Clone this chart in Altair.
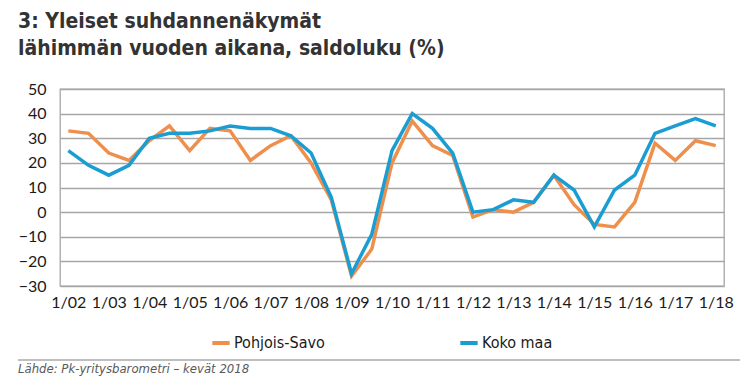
import altair as alt
import pandas as pd

years = [f"{y:02d}" for y in range(2, 18)]
periods = []
for y in years:
    periods += [f"1/{y}", f"7/{y}"]
periods.append("1/18")

tick_labels = ["1/02", "1/03", "1/04", "1/05", "1/06", "1/07", "1/08", "1/09", "1/10",
               "1/11", "1/12", "1/13", "1/14", "1/15", "1/16", "1/17", "1/18"]

pohjois_savo = [33, 32, 24, 21, 29, 35, 25, 34, 33, 21, 27, 31, 20, 5, -26, -15, 20,
                37, 27, 23, -2, 1, 0, 4, 15, 3, -5, -6, 4, 28, 21, 29, 27]
koko_maa = [25, 19, 15, 19, 30, 32, 32, 33, 35, 34, 34, 31, 24, 6, -25, -9, 25,
            40, 34, 24, 0, 1, 5, 4, 15, 9, -6, 9, 15, 32, 35, 38, 35]

series_names = ["Pohjois-Savo", "Koko maa"]
series_colors = ["#EF8F4C", "#1A9DD2"]

rows = []
for name, vals in zip(series_names, [pohjois_savo, koko_maa]):
    for p, v in zip(periods, vals):
        rows.append({"period": p, "value": v, "series": name})
df = pd.DataFrame(rows)

lines = alt.Chart(df).mark_line(strokeWidth=3.5, strokeJoin="miter").encode(
    x=alt.X("period:O", sort=periods,
            scale=alt.Scale(domain=periods, padding=0.41),
            axis=alt.Axis(title=None, values=tick_labels, labelAngle=0, ticks=False,
                          domain=False, labelFont="Lato", labelFontSize=16,
                          labelColor="#1a1a1a", labelPadding=8)),
    y=alt.Y("value:Q",
            scale=alt.Scale(domain=[-30, 50], nice=False),
            axis=alt.Axis(title=None, values=list(range(-30, 51, 10)), ticks=False,
                          domain=False, grid=True, gridColor="#A6A6A6", gridWidth=1.3,
                          labelFont="Lato", labelFontSize=16, labelColor="#1a1a1a",
                          labelPadding=14)),
    color=alt.Color("series:N", sort=series_names,
                    scale=alt.Scale(domain=series_names, range=series_colors),
                    legend=alt.Legend(title=None, orient="none", legendX=150, legendY=243,
                                      direction="horizontal", columns=2, columnPadding=127,
                                      symbolType="stroke", symbolStrokeWidth=4,
                                      symbolSize=300, labelFont="DejaVu Sans Condensed",
                                      labelFontSize=16, labelColor="#1a1a1a",
                                      labelOffset=2)),
)

source_rule = alt.Chart(pd.DataFrame({"a": [0]})).mark_rule(
    color="#808080", strokeWidth=1.2
).encode(x=alt.value(-42), x2=alt.value(680), y=alt.value(271))

source_text = alt.Chart(pd.DataFrame({"t": ["Lähde: Pk-yritysbarometri – kevät 2018"]})).mark_text(
    align="left", baseline="middle", font="DejaVu Sans Condensed", fontSize=13,
    fontStyle="italic", color="#595959"
).encode(x=alt.value(-42), y=alt.value(280), text="t:N")

chart = alt.layer(lines, source_rule, source_text).properties(
    width=664, height=197,
    autosize=alt.AutoSizeParams(type="none"),
    padding={"left": 52, "top": 81, "right": 18, "bottom": 93},
    title=alt.TitleParams(
        text=["3: Yleiset suhdannenäkymät", "lähimmän vuoden aikana, saldoluku (%)"],
        anchor="start", frame="group", dx=-42, offset=22,
        font="DejaVu Sans Condensed", fontSize=21, fontWeight="bold",
        color="#333333", lineHeight=27),
).configure_view(stroke="#A6A6A6", strokeWidth=1.3)

chart.save("out.html", embed_options={"renderer": "svg", "actions": False})
